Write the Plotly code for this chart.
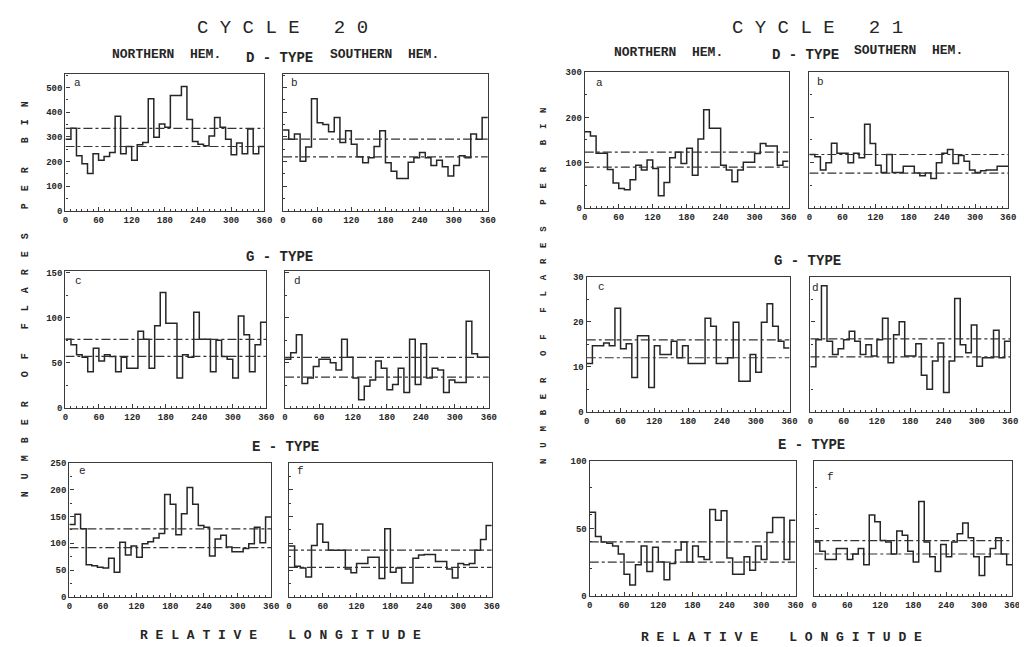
import plotly.graph_objects as go

W, H = 1027, 647

lon_edges = list(range(0, 370, 10))
lon_ticks = [0, 60, 120, 180, 240, 300, 360]

# ---- Cycle 20 ----
c20_d_north = [290, 335, 224, 191, 152, 232, 205, 221, 237, 384, 232, 261, 205, 268, 277, 455, 299, 352,
               339, 468, 468, 504, 371, 281, 270, 264, 304, 379, 339, 291, 228, 275, 232, 332, 232, 261]
c20_d_south = [328, 291, 312, 201, 259, 455, 357, 350, 321, 379, 277, 325, 270, 220, 195, 215, 261, 325,
               195, 161, 131, 131, 197, 215, 237, 215, 184, 205, 179, 141, 184, 224, 215, 312, 291, 379]
c20_g_north = [76, 70, 59, 56, 40, 66, 52, 59, 57, 40, 56, 44, 44, 85, 76, 44, 91, 128,
               94, 94, 33, 59, 56, 106, 76, 76, 40, 75, 57, 54, 33, 102, 81, 40, 70, 95]
c20_g_south = [54, 61, 81, 27, 33, 46, 54, 54, 50, 42, 76, 56, 33, 9, 24, 31, 52, 44,
               20, 26, 44, 17, 76, 26, 71, 33, 44, 42, 17, 31, 28, 28, 96, 60, 56, 56]
c20_e_north = [135, 154, 127, 60, 58, 55, 54, 72, 46, 102, 78, 95, 74, 99, 103, 110, 118, 191,
               173, 116, 155, 204, 173, 133, 130, 76, 108, 115, 93, 84, 84, 90, 99, 130, 101, 149]
c20_e_south = [95, 57, 54, 37, 96, 136, 102, 87, 87, 87, 52, 45, 62, 62, 74, 74, 34, 127,
               46, 54, 26, 26, 72, 78, 79, 79, 66, 66, 52, 35, 62, 60, 62, 87, 107, 133]
c20_d_north_levels = [335, 261]
c20_d_south_levels = [291, 219]
c20_g_north_levels = [76, 57]
c20_g_south_levels = [56, 34]
c20_e_north_levels = [127, 92]
c20_e_south_levels = [87, 55]

# ---- Cycle 21 ----
c21_d_north = [168, 159, 121, 121, 85, 55, 43, 40, 62, 94, 84, 106, 87, 27, 56, 111, 123, 98,
               132, 72, 152, 217, 176, 176, 94, 84, 58, 84, 101, 101, 120, 142, 137, 137, 94, 103]
c21_d_south = [118, 113, 84, 100, 143, 121, 121, 100, 121, 111, 185, 142, 94, 78, 118, 78, 78, 92,
               92, 77, 71, 77, 65, 100, 121, 129, 98, 116, 103, 84, 78, 82, 84, 84, 92, 92]
c21_g_north = [10.7, 14.7, 14.7, 15.3, 14.7, 23, 14, 15.1, 7.6, 16.9, 16.9, 5.4, 14.7, 12.7, 12.7, 15.7, 12, 14.7,
               10.7, 10.7, 10.7, 20.8, 19, 10.7, 10.7, 12, 19.9, 6.8, 6.8, 12.7, 8.8, 19.9, 24, 19, 15.7, 14.2]
c21_g_south = [10, 16, 28, 15.7, 12.7, 14, 16, 17.9, 15.7, 12.7, 14.9, 12.4, 16, 20.8, 10.9, 17.1, 20, 12.4,
               12.4, 15.1, 8.1, 5, 11.3, 15.3, 4.3, 11.3, 25.2, 14.9, 13.1, 19.3, 10.1, 12, 12, 18.1, 12, 15.7]
c21_e_north = [62, 44, 40, 39, 37, 31, 16, 8, 23, 37, 18, 36, 25, 12, 24, 34, 40, 25,
               37, 29, 27, 64, 56, 63, 28, 16, 16, 29, 19, 37, 27, 47, 58, 58, 27, 56]
c21_e_south = [40, 33, 27, 27, 35, 35, 27, 31, 35, 23, 60, 55, 41, 40, 31, 48, 45, 33,
               25, 70, 40, 29, 18, 38, 29, 40, 46, 54, 43, 29, 15, 29, 35, 43, 31, 23]
c21_d_north_levels = [123, 90]
c21_d_south_levels = [118, 77]
c21_g_north_levels = [16, 12]
c21_g_south_levels = [16.2, 12.2]
c21_e_north_levels = [40, 25]
c21_e_south_levels = [41, 31]

# y-axis tick labels per row
c20_d_yticks = [0, 100, 200, 300, 400, 500]
c20_g_yticks = [0, 50, 100, 150]
c20_e_yticks = [0, 50, 100, 150, 200, 250]
c21_d_yticks = [0, 100, 200, 300]
c21_g_yticks = [0, 10, 20, 30]
c21_e_yticks = [0, 50, 100]

FONT = "Liberation Mono"
INK = "#262626"

# (box px: x0, x1, ytop, ybottom), series, levels, yrange, yticks, minor dtick, show y labels, letter, letter pos
panels = [
    ((55, 256, 63, 202), c20_d_north, c20_d_north_levels, 555, c20_d_yticks, 50, True, "a", (67, 72)),
    ((275, 482, 63, 202), c20_d_south, c20_d_south_levels, 555, c20_d_yticks, 50, False, "b", (287, 72)),
    ((55, 258, 263, 402), c20_g_north, c20_g_north_levels, 152, c20_g_yticks, 25, True, "c", (68, 273)),
    ((277, 483, 263, 402), c20_g_south, c20_g_south_levels, 152, c20_g_yticks, 25, False, "d", (290, 273)),
    ((59, 263, 458, 594), c20_e_north, c20_e_north_levels, 250, c20_e_yticks, 25, True, "e", (72, 466)),
    ((281, 486, 458, 594), c20_e_south, c20_e_south_levels, 250, c20_e_yticks, 25, False, "f", (293, 466)),
    ((580, 786, 61, 199), c21_d_north, c21_d_north_levels, 300, c21_d_yticks, 50, True, "a", (595, 72)),
    ((807, 1008, 61, 199), c21_d_south, c21_d_south_levels, 300, c21_d_yticks, 50, False, "b", (818, 71)),
    ((582, 787, 269, 406), c21_g_north, c21_g_north_levels, 30, c21_g_yticks, 5, True, "c", (597, 279)),
    ((808, 1010, 269, 406), c21_g_south, c21_g_south_levels, 30, c21_g_yticks, 5, False, "d", (813, 280)),
    ((585, 793, 456, 593), c21_e_north, c21_e_north_levels, 100, c21_e_yticks, 20, True, None, None),
    ((812, 1012, 456, 593), c21_e_south, c21_e_south_levels, 100, c21_e_yticks, 20, False, "f", (828, 472)),
]

fig = go.Figure()
layout = {}
annotations = []


def px(x, y):
    return x / W, 1 - y / H


for i, (box, vals, levels, ymax, yt, ymin_dt, showy, letter, lpos) in enumerate(panels, start=1):
    x0, x1, yt0, yb = box
    xa = "x" if i == 1 else f"x{i}"
    ya = "y" if i == 1 else f"y{i}"
    fig.add_trace(go.Scatter(
        x=lon_edges, y=list(vals) + [vals[-1]], mode="lines", line=dict(shape="hv", color=INK, width=1.5),
        xaxis=xa, yaxis=ya, showlegend=False, hoverinfo="skip"))
    for lv in levels:
        fig.add_trace(go.Scatter(
            x=[0, 360], y=[lv, lv], mode="lines",
            line=dict(color="#333333", width=1.2, dash="dashdot"),
            xaxis=xa, yaxis=ya, showlegend=False, hoverinfo="skip"))
    axcommon = dict(showline=True, mirror=True, linecolor="#3a3a3a", linewidth=1.4, showgrid=False,
                    zeroline=False, ticks="inside", ticklen=4, tickcolor="#3a3a3a",
                    tickfont=dict(family=FONT, size=9, color=INK, weight="bold"))
    layout["xaxis" if i == 1 else f"xaxis{i}"] = dict(
        axcommon, domain=[x0 / W, x1 / W], range=[0, 360], anchor=ya,
        tickvals=lon_ticks, ticktext=[str(t) for t in lon_ticks],
        minor=dict(dtick=10, tick0=0, ticks="inside", ticklen=2, tickcolor="#3a3a3a"))
    layout["yaxis" if i == 1 else f"yaxis{i}"] = dict(
        axcommon, domain=[1 - yb / H, 1 - yt0 / H], range=[0, ymax], anchor=xa,
        tickvals=yt, ticktext=[str(t) for t in yt] if showy else [""] * len(yt),
        minor=dict(dtick=ymin_dt, tick0=0, ticks="inside", ticklen=2, tickcolor="#3a3a3a"))
    if letter:
        lx, ly = px(*lpos)
        annotations.append(dict(x=lx, y=ly, xref="paper", yref="paper", text=letter, showarrow=False,
                                font=dict(family=FONT, size=11, color=INK), xanchor="center", yanchor="middle"))


def txt(s, x, y, size, angle=0, bold=False):
    ax, ay = px(x, y)
    annotations.append(dict(x=ax, y=ay, xref="paper", yref="paper",
                            text=f"<b>{s}</b>" if bold else s, showarrow=False,
                            font=dict(family=FONT, size=size, color=INK), xanchor="center",
                            yanchor="middle", textangle=angle))


def spaced(words, inner=" ", gap="   "):
    return gap.join(inner.join(list(w)) for w in words)


txt(spaced(["CYCLE", "20"]), 274, 16, 19)
txt(spaced(["CYCLE", "21"]), 815, 16, 19)

txt("NORTHERN  HEM.", 157, 43, 13, bold=True)
txt("D - TYPE", 271, 47, 14, bold=True)
txt("SOUTHERN  HEM.", 378, 43, 13, bold=True)
txt("NORTHERN  HEM.", 665, 41, 13, bold=True)
txt("D - TYPE", 803, 44, 14, bold=True)
txt("SOUTHERN  HEM.", 907, 39, 13, bold=True)

txt("G - TYPE", 271, 249, 14, bold=True)
txt("G - TYPE", 805, 253, 14, bold=True)
txt("E - TYPE", 277, 442, 14, bold=True)
txt("E - TYPE", 809, 440, 14, bold=True)

txt(spaced(["RELATIVE", "LONGITUDE"], gap="    "), 272, 633, 13, bold=True)
txt(spaced(["RELATIVE", "LONGITUDE"], gap="    "), 779, 635, 13, bold=True)

ylab = spaced(["NUMBER", "OF", "FLARES", "PER", "BIN"], inner="  ", gap="    ")
txt(ylab, 15, 292, 10, angle=-90, bold=True)
txt(ylab, 538, 278, 9, angle=-90, bold=True)

fig.update_layout(**layout)
fig.update_layout(width=W, height=H, margin=dict(l=0, r=0, t=0, b=0),
                  paper_bgcolor="white", plot_bgcolor="white", annotations=annotations,
                  showlegend=False)

fig.write_html("out.html")
